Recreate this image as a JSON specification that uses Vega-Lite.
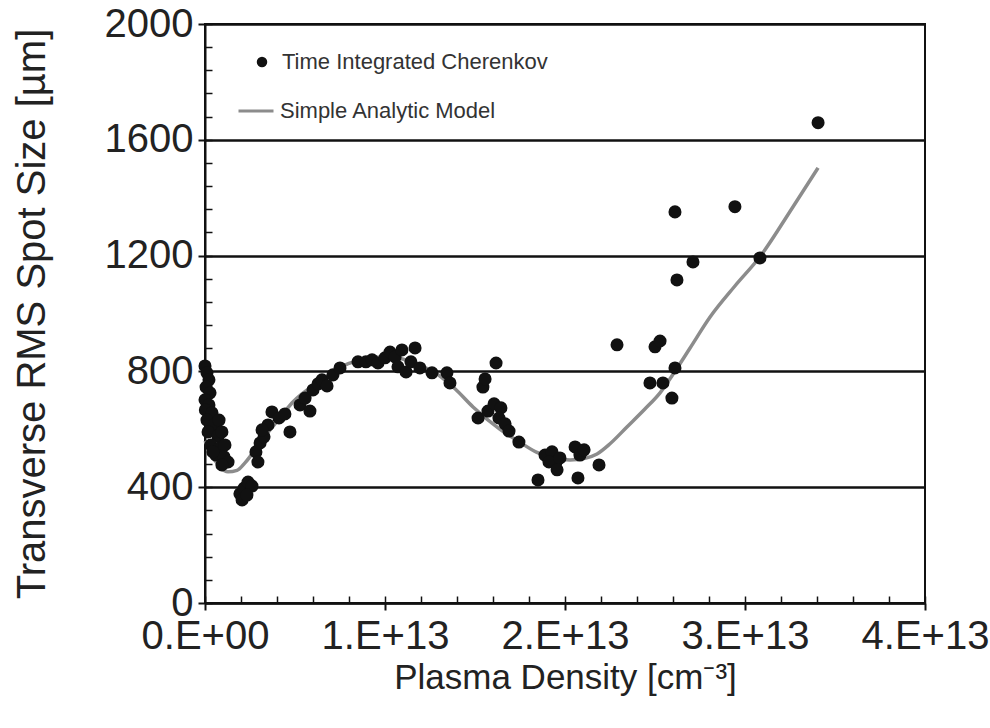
{
  "$schema": "https://vega.github.io/schema/vega-lite/v6.json",
  "autosize": "none",
  "width": 720,
  "height": 579,
  "padding": {"left": 205, "top": 24, "right": 65, "bottom": 125},
  "background": "white",
  "config": {
    "view": {"stroke": "#111", "strokeWidth": 2},
    "font": "Liberation Sans"
  },
  "datasets": {
    "obs": [
      {"density": 0.0e13, "size": 819}, {"density": 0.011e13, "size": 795}, {"density": 0.022e13, "size": 771},
      {"density": 0.006e13, "size": 746}, {"density": 0.028e13, "size": 726}, {"density": 0.0e13, "size": 702},
      {"density": 0.022e13, "size": 684}, {"density": 0.002e13, "size": 667}, {"density": 0.039e13, "size": 657},
      {"density": 0.011e13, "size": 632}, {"density": 0.05e13, "size": 615}, {"density": 0.078e13, "size": 632},
      {"density": 0.017e13, "size": 591}, {"density": 0.072e13, "size": 577}, {"density": 0.094e13, "size": 591},
      {"density": 0.033e13, "size": 546}, {"density": 0.083e13, "size": 536}, {"density": 0.111e13, "size": 546},
      {"density": 0.061e13, "size": 511}, {"density": 0.106e13, "size": 505}, {"density": 0.128e13, "size": 487},
      {"density": 0.094e13, "size": 477}, {"density": 0.044e13, "size": 522},
      {"density": 0.194e13, "size": 377}, {"density": 0.217e13, "size": 397}, {"density": 0.239e13, "size": 418},
      {"density": 0.261e13, "size": 404}, {"density": 0.206e13, "size": 356}, {"density": 0.233e13, "size": 373},
      {"density": 0.283e13, "size": 522}, {"density": 0.306e13, "size": 553}, {"density": 0.328e13, "size": 574},
      {"density": 0.294e13, "size": 487}, {"density": 0.35e13, "size": 615}, {"density": 0.317e13, "size": 598},
      {"density": 0.372e13, "size": 660}, {"density": 0.411e13, "size": 639}, {"density": 0.444e13, "size": 653},
      {"density": 0.472e13, "size": 591}, {"density": 0.528e13, "size": 684}, {"density": 0.556e13, "size": 708},
      {"density": 0.583e13, "size": 663}, {"density": 0.6e13, "size": 736}, {"density": 0.628e13, "size": 757},
      {"density": 0.65e13, "size": 771}, {"density": 0.678e13, "size": 750}, {"density": 0.711e13, "size": 788},
      {"density": 0.75e13, "size": 812}, {"density": 0.85e13, "size": 833}, {"density": 0.894e13, "size": 833},
      {"density": 0.928e13, "size": 840}, {"density": 0.961e13, "size": 829}, {"density": 1.0e13, "size": 847},
      {"density": 1.028e13, "size": 867}, {"density": 1.056e13, "size": 850}, {"density": 1.072e13, "size": 816},
      {"density": 1.094e13, "size": 874}, {"density": 1.117e13, "size": 798}, {"density": 1.144e13, "size": 833},
      {"density": 1.167e13, "size": 881}, {"density": 1.194e13, "size": 812}, {"density": 1.261e13, "size": 795},
      {"density": 1.344e13, "size": 795}, {"density": 1.361e13, "size": 760},
      {"density": 1.544e13, "size": 746}, {"density": 1.556e13, "size": 774}, {"density": 1.617e13, "size": 829},
      {"density": 1.517e13, "size": 639}, {"density": 1.572e13, "size": 663}, {"density": 1.606e13, "size": 688},
      {"density": 1.644e13, "size": 674}, {"density": 1.633e13, "size": 639}, {"density": 1.667e13, "size": 619},
      {"density": 1.689e13, "size": 594}, {"density": 1.744e13, "size": 556}, {"density": 1.85e13, "size": 425},
      {"density": 1.889e13, "size": 511}, {"density": 1.928e13, "size": 522}, {"density": 1.95e13, "size": 487},
      {"density": 1.911e13, "size": 487}, {"density": 1.972e13, "size": 501}, {"density": 2.056e13, "size": 539},
      {"density": 2.083e13, "size": 511}, {"density": 2.106e13, "size": 529}, {"density": 2.072e13, "size": 432},
      {"density": 2.189e13, "size": 477}, {"density": 1.956e13, "size": 460},
      {"density": 2.289e13, "size": 892}, {"density": 2.472e13, "size": 760}, {"density": 2.544e13, "size": 760},
      {"density": 2.5e13, "size": 885}, {"density": 2.528e13, "size": 905}, {"density": 2.611e13, "size": 812},
      {"density": 2.594e13, "size": 708}, {"density": 2.622e13, "size": 1116}, {"density": 2.711e13, "size": 1178},
      {"density": 2.611e13, "size": 1351}, {"density": 2.944e13, "size": 1369}, {"density": 3.083e13, "size": 1192},
      {"density": 3.406e13, "size": 1659}
    ],
    "model": [
      {"density": 0.0e13, "size": 560}, {"density": 0.039e13, "size": 510}, {"density": 0.083e13, "size": 470},
      {"density": 0.128e13, "size": 453}, {"density": 0.178e13, "size": 458}, {"density": 0.222e13, "size": 484},
      {"density": 0.317e13, "size": 563}, {"density": 0.417e13, "size": 640}, {"density": 0.483e13, "size": 691},
      {"density": 0.65e13, "size": 771}, {"density": 0.778e13, "size": 822}, {"density": 0.872e13, "size": 840},
      {"density": 0.972e13, "size": 850}, {"density": 1.056e13, "size": 848}, {"density": 1.194e13, "size": 820},
      {"density": 1.267e13, "size": 800}, {"density": 1.389e13, "size": 740}, {"density": 1.489e13, "size": 677},
      {"density": 1.639e13, "size": 600}, {"density": 1.75e13, "size": 555}, {"density": 1.844e13, "size": 520},
      {"density": 1.944e13, "size": 500}, {"density": 2.028e13, "size": 494}, {"density": 2.111e13, "size": 500},
      {"density": 2.178e13, "size": 515}, {"density": 2.25e13, "size": 550}, {"density": 2.344e13, "size": 608},
      {"density": 2.444e13, "size": 670}, {"density": 2.528e13, "size": 726}, {"density": 2.611e13, "size": 800},
      {"density": 2.694e13, "size": 880}, {"density": 2.806e13, "size": 988}, {"density": 2.944e13, "size": 1095},
      {"density": 3.083e13, "size": 1196}, {"density": 3.267e13, "size": 1369}, {"density": 3.406e13, "size": 1503}
    ]
  },
  "resolve": {"axis": {"x": "independent", "y": "independent"}},
  "layer": [
    {
      "data": {"name": "model"},
      "transform": [{"calculate": "'Simple Analytic Model'", "as": "series"}],
      "mark": {"type": "line", "strokeWidth": 3.5, "interpolate": "monotone"},
      "encoding": {
        "x": {
          "field": "density", "type": "quantitative",
          "scale": {"domain": [0, 4e13], "nice": false},
          "axis": {
            "orient": "bottom",
            "values": [0, 1e13, 2e13, 3e13, 4e13],
            "labelExpr": "datum.value == 0 ? '0.E+00' : format(datum.value / 1e13, 'd') + '.E+13'",
            "grid": false,
            "domainColor": "#111", "domainWidth": 2,
            "tickColor": "#111", "tickWidth": 2, "tickSize": 7,
            "labelFont": "Liberation Sans", "labelFontSize": 40, "labelColor": "#222",
            "labelPadding": 6, "labelFlush": false,
            "title": "Plasma Density [cm⁻³]",
            "titleFont": "Liberation Sans", "titleFontSize": 35, "titleFontWeight": "normal",
            "titleColor": "#222", "titlePadding": 4
          }
        },
        "y": {
          "field": "size", "type": "quantitative",
          "scale": {"domain": [0, 2000], "nice": false},
          "axis": {
            "orient": "left",
            "values": [0, 400, 800, 1200, 1600, 2000],
            "format": "d",
            "grid": true, "gridColor": "#111", "gridWidth": 2.5,
            "domainColor": "#111", "domainWidth": 2,
            "tickColor": "#111", "tickWidth": 2, "tickSize": 7,
            "labelFont": "Liberation Sans", "labelFontSize": 40, "labelColor": "#222",
            "labelPadding": 5, "labelFlush": false,
            "title": "Transverse RMS Spot Size [µm]",
            "titleFont": "Liberation Sans", "titleFontSize": 40, "titleFontWeight": "normal",
            "titleColor": "#222", "titlePadding": 52
          }
        },
        "stroke": {
          "field": "series", "type": "nominal",
          "scale": {"domain": ["Simple Analytic Model"], "range": ["#8c8c8c"]},
          "legend": {
            "orient": "none", "legendX": 32, "legendY": 68, "title": null,
            "symbolType": "stroke", "symbolSize": 1225, "symbolStrokeWidth": 3,
            "labelFont": "Liberation Sans", "labelFontSize": 22, "labelColor": "#333",
            "labelOffset": 5, "labelLimit": 0, "padding": 0
          }
        }
      }
    },
    {
      "data": {"name": "obs"},
      "transform": [{"calculate": "'Time Integrated Cherenkov'", "as": "series"}],
      "mark": {"type": "point", "filled": true, "opacity": 1, "size": 170},
      "encoding": {
        "x": {
          "field": "density", "type": "quantitative",
          "scale": {"domain": [0, 4e13], "nice": false},
          "axis": {
            "orient": "bottom", "title": null, "domain": false, "grid": false,
            "labelOpacity": 0, "labelFontSize": 1, "labelColor": "white",
            "offset": -7,
            "values": [0, 2e12, 4e12, 6e12, 8e12, 1e13, 1.2e13, 1.4e13, 1.6e13, 1.8e13, 2e13, 2.2e13, 2.4e13, 2.6e13, 2.8e13, 3e13, 3.2e13, 3.4e13, 3.6e13, 3.8e13, 4e13],
            "tickColor": "#111", "tickWidth": 1.5, "tickSize": 7
          }
        },
        "y": {
          "field": "size", "type": "quantitative",
          "scale": {"domain": [0, 2000], "nice": false},
          "axis": {
            "orient": "left", "title": null, "domain": false, "grid": false,
            "labelOpacity": 0, "labelFontSize": 1, "labelColor": "white",
            "offset": -7,
            "values": [0, 80, 160, 240, 320, 400, 480, 560, 640, 720, 800, 880, 960, 1040, 1120, 1200, 1280, 1360, 1440, 1520, 1600, 1680, 1760, 1840, 1920, 2000],
            "tickColor": "#111", "tickWidth": 1.5, "tickSize": 7
          }
        },
        "fill": {
          "field": "series", "type": "nominal",
          "scale": {"domain": ["Time Integrated Cherenkov"], "range": ["#111"]},
          "legend": {
            "orient": "none", "legendX": 46, "legendY": 27, "title": null,
            "symbolType": "circle", "symbolSize": 110, "symbolOpacity": 1,
            "labelFont": "Liberation Sans", "labelFontSize": 22, "labelColor": "#333",
            "labelOffset": 9, "labelLimit": 0, "padding": 0
          }
        }
      }
    }
  ]
}
